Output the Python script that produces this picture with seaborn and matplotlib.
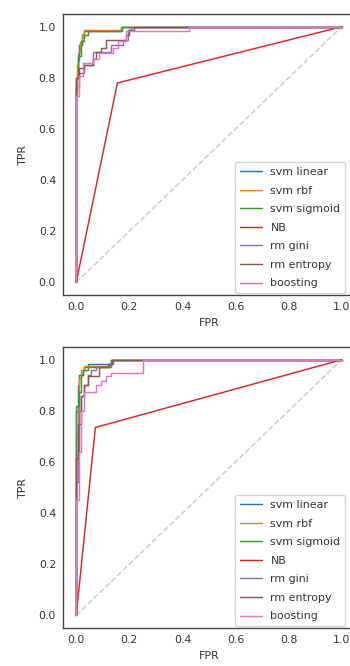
import matplotlib
matplotlib.use("Agg")
import matplotlib.pyplot as plt
import seaborn as sns
import pandas as pd

models = ["svm linear", "svm rbf", "svm sigmoid", "NB", "rm gini", "rm entropy", "boosting"]

# ---- top panel ROC points ----
top_svm_linear_fpr = [0, 0, 0.005, 0.005, 0.011, 0.011, 0.02, 0.02, 0.03, 0.03, 0.17, 0.17, 1]
top_svm_linear_tpr = [0, 0.80, 0.80, 0.87, 0.87, 0.93, 0.93, 0.96, 0.96, 0.985, 0.985, 1, 1]
top_svm_rbf_fpr = [0, 0, 0.003, 0.003, 0.008, 0.008, 0.014, 0.014, 0.02, 0.02, 0.03, 0.03, 0.17, 0.17, 1]
top_svm_rbf_tpr = [0, 0.74, 0.74, 0.85, 0.85, 0.90, 0.90, 0.94, 0.94, 0.97, 0.97, 0.988, 0.988, 1, 1]
top_svm_sig_fpr = [0, 0, 0.005, 0.005, 0.018, 0.018, 0.03, 0.03, 0.043, 0.043, 0.172, 0.172, 1]
top_svm_sig_tpr = [0, 0.80, 0.80, 0.885, 0.885, 0.943, 0.943, 0.969, 0.969, 0.982, 0.982, 1, 1]
top_nb_fpr = [0, 0.155, 1]
top_nb_tpr = [0, 0.78, 1]
top_gini_fpr = [0, 0, 0.011, 0.011, 0.03, 0.03, 0.062, 0.062, 0.131, 0.131, 0.175, 0.175, 0.194, 0.194, 0.206, 0.206, 1]
top_gini_tpr = [0, 0.77, 0.77, 0.82, 0.82, 0.85, 0.85, 0.90, 0.90, 0.93, 0.93, 0.95, 0.95, 0.988, 0.988, 1, 1]
top_entropy_fpr = [0, 0, 0.011, 0.011, 0.03, 0.03, 0.062, 0.062, 0.074, 0.074, 0.093, 0.093, 0.112, 0.112,
                   0.187, 0.187, 0.2, 0.2, 0.219, 0.219, 1]
top_entropy_tpr = [0, 0.80, 0.80, 0.84, 0.84, 0.852, 0.852, 0.872, 0.872, 0.90, 0.90, 0.917, 0.917, 0.95,
                   0.95, 0.969, 0.969, 0.988, 0.988, 1, 1]
top_boost_fpr = [0, 0, 0.011, 0.011, 0.024, 0.024, 0.062, 0.062, 0.087, 0.087, 0.137, 0.137, 0.156, 0.156,
                 0.187, 0.187, 0.426, 0.426, 1]
top_boost_tpr = [0, 0.73, 0.73, 0.807, 0.807, 0.859, 0.859, 0.872, 0.872, 0.898, 0.898, 0.917, 0.917, 0.943,
                 0.943, 0.982, 0.982, 1, 1]

# ---- bottom panel ROC points ----
bot_svm_linear_fpr = [0, 0, 0.005, 0.005, 0.011, 0.011, 0.024, 0.024, 0.03, 0.03, 0.043, 0.043, 0.131, 0.131, 1]
bot_svm_linear_tpr = [0, 0.80, 0.80, 0.90, 0.90, 0.94, 0.94, 0.96, 0.96, 0.97, 0.97, 0.985, 0.985, 1, 1]
bot_svm_rbf_fpr = [0, 0, 0.005, 0.005, 0.011, 0.011, 0.018, 0.018, 0.03, 0.03, 0.131, 0.131, 1]
bot_svm_rbf_tpr = [0, 0.70, 0.70, 0.80, 0.80, 0.93, 0.93, 0.96, 0.96, 0.975, 0.975, 1, 1]
bot_svm_sig_fpr = [0, 0, 0.011, 0.011, 0.018, 0.018, 0.024, 0.024, 0.043, 0.043, 0.125, 0.125, 0.131, 0.131, 1]
bot_svm_sig_tpr = [0, 0.82, 0.82, 0.873, 0.873, 0.94, 0.94, 0.958, 0.958, 0.97, 0.97, 0.985, 0.985, 1, 1]
bot_nb_fpr = [0, 0.072, 1]
bot_nb_tpr = [0, 0.735, 1]
bot_gini_fpr = [0, 0, 0.005, 0.005, 0.011, 0.011, 0.018, 0.018, 0.03, 0.03, 0.043, 0.043, 0.056, 0.056,
                0.075, 0.075, 0.131, 0.131, 0.14, 0.14, 1]
bot_gini_tpr = [0, 0.52, 0.52, 0.63, 0.63, 0.80, 0.80, 0.86, 0.86, 0.90, 0.90, 0.94, 0.94, 0.96,
                0.96, 0.97, 0.97, 0.985, 0.985, 1, 1]
bot_entropy_fpr = [0, 0, 0.005, 0.005, 0.018, 0.018, 0.03, 0.03, 0.043, 0.043, 0.087, 0.087, 0.12, 0.12,
                   0.135, 0.135, 1]
bot_entropy_tpr = [0, 0.617, 0.617, 0.75, 0.75, 0.86, 0.86, 0.90, 0.90, 0.937, 0.937, 0.97, 0.97, 0.985,
                   0.985, 1, 1]
bot_boost_fpr = [0, 0, 0.011, 0.011, 0.018, 0.018, 0.03, 0.03, 0.074, 0.074, 0.093, 0.093, 0.112, 0.112,
                 0.131, 0.131, 0.25, 0.25, 1]
bot_boost_tpr = [0, 0.45, 0.45, 0.64, 0.64, 0.80, 0.80, 0.873, 0.873, 0.90, 0.90, 0.918, 0.918, 0.937,
                 0.937, 0.95, 0.95, 1, 1]

diag = [0, 1]

top_curves = [(top_svm_linear_fpr, top_svm_linear_tpr), (top_svm_rbf_fpr, top_svm_rbf_tpr),
              (top_svm_sig_fpr, top_svm_sig_tpr), (top_nb_fpr, top_nb_tpr),
              (top_gini_fpr, top_gini_tpr), (top_entropy_fpr, top_entropy_tpr),
              (top_boost_fpr, top_boost_tpr)]
bot_curves = [(bot_svm_linear_fpr, bot_svm_linear_tpr), (bot_svm_rbf_fpr, bot_svm_rbf_tpr),
              (bot_svm_sig_fpr, bot_svm_sig_tpr), (bot_nb_fpr, bot_nb_tpr),
              (bot_gini_fpr, bot_gini_tpr), (bot_entropy_fpr, bot_entropy_tpr),
              (bot_boost_fpr, bot_boost_tpr)]


def make_df(curves):
    rows = []
    for name, (f, t) in zip(models, curves):
        for i, (a, b) in enumerate(zip(f, t)):
            rows.append({"model": name, "FPR": a, "TPR": b, "order": i})
    return pd.DataFrame(rows)


sns.set_theme(style="white")
fs = 7.9
plt.rcParams["font.family"] = ["DejaVu Sans"]
plt.rcParams["axes.edgecolor"] = "#444444"
plt.rcParams["text.color"] = "#333333"
plt.rcParams["xtick.color"] = "#333333"
plt.rcParams["ytick.color"] = "#333333"
plt.rcParams["axes.labelcolor"] = "#333333"

fig = plt.figure(figsize=(3.5, 6.66), dpi=100)
ax1 = fig.add_axes([0.18, 0.557, 0.834, 0.422])
ax2 = fig.add_axes([0.18, 0.057, 0.834, 0.422])

palette = sns.color_palette("tab10", 7)
for ax, curves in ((ax1, top_curves), (ax2, bot_curves)):
    ax.plot(diag, diag, linestyle="--", color="#cccccc", lw=1.1)
    df = make_df(curves)
    sns.lineplot(data=df, x="FPR", y="TPR", hue="model", hue_order=models, palette=palette,
                 sort=False, estimator=None, units="model", lw=1.05, ax=ax)
    ax.set_xlim(-0.05, 1.05)
    ax.set_ylim(-0.05, 1.05)
    ax.set_xticks([0, 0.2, 0.4, 0.6, 0.8, 1.0])
    ax.set_yticks([0, 0.2, 0.4, 0.6, 0.8, 1.0])
    ax.tick_params(labelsize=fs, length=0, pad=5)
    ax.set_xlabel("FPR", fontsize=fs, labelpad=4)
    ax.set_ylabel("TPR", fontsize=fs, labelpad=8)
    for s in ax.spines.values():
        s.set_linewidth(1.0)
    sns.move_legend(ax, "lower right", title=None, fontsize=fs, frameon=True,
                    borderaxespad=0.15, labelspacing=0.78, borderpad=0.45,
                    bbox_to_anchor=(0.0, 0.0, 0.973, 1))

fig.savefig("out.png", dpi=100)
